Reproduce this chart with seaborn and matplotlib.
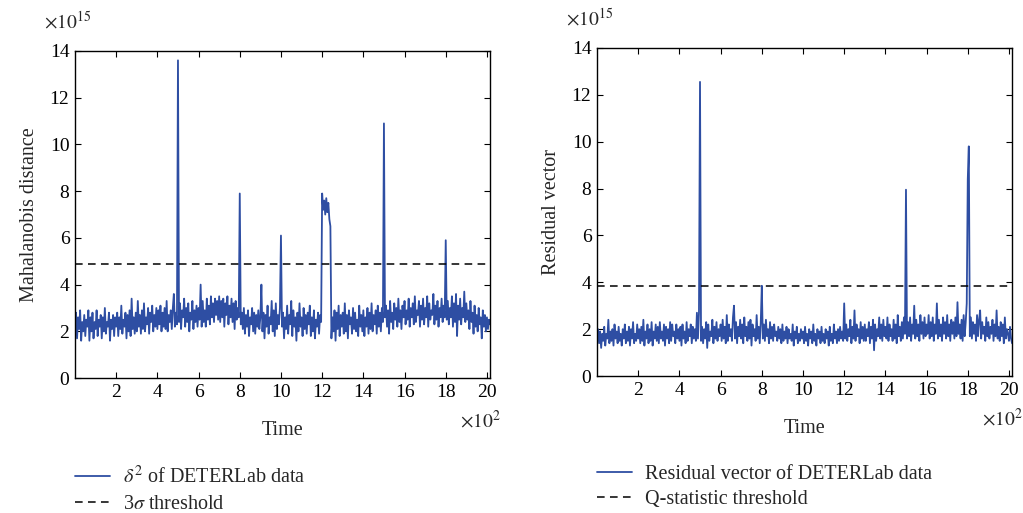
import numpy as np
import pandas as pd
import matplotlib
matplotlib.use("Agg")
import matplotlib.pyplot as plt
import seaborn as sns

# ---- data (values in units of 1e15; time step of 5 samples) ----
mahalanobis = [
    2.3, 2.8, 1.7, 2.6, 2.1, 2.9, 1.6, 2.4, 2.0, 2.7, 1.8, 2.5, 2.2, 2.9, 1.6, 2.6, 2.0, 2.8, 1.7, 2.4,
    2.1, 2.9, 1.8, 2.5, 2.2, 2.7, 1.7, 2.6, 2.0, 3.0, 1.9, 2.4, 2.2, 2.8, 1.6, 2.5, 2.1, 2.7, 1.8, 2.6,
    2.2, 2.8, 1.8, 2.6, 2.1, 3.1, 1.9, 2.5, 2.2, 2.8, 1.7, 2.7, 2.0, 2.9, 1.8, 3.4, 2.1, 2.6, 1.9, 2.8,
    2.0, 3.3, 2.2, 2.7, 1.9, 2.9, 2.1, 3.2, 2.0, 2.6, 2.3, 3.0, 1.9, 2.8, 2.4, 3.1, 2.0, 2.7, 2.2, 3.0,
    2.1, 2.9, 2.3, 3.1, 2.0, 2.8, 2.2, 3.0, 2.1, 3.3, 2.0, 2.7, 2.4, 2.9, 2.1, 3.0, 3.6, 2.2, 2.8, 2.3,
    13.6, 2.4, 3.2, 2.1, 2.9, 2.6, 3.4, 2.2, 3.0, 2.4, 3.2, 2.0, 2.8, 2.5, 3.3, 2.1, 2.9, 2.4, 3.1, 2.2,
    3.0, 2.5, 4.0, 2.2, 3.3, 2.4, 2.9, 2.2, 3.4, 2.5, 3.1, 2.3, 3.5, 2.6, 3.2, 2.4, 3.4, 2.7, 3.3, 2.5,
    3.5, 2.4, 3.3, 2.6, 3.4, 2.2, 3.2, 2.7, 3.5, 2.3, 3.1, 2.6, 3.4, 2.4, 3.2, 2.1, 3.3, 2.5, 3.0, 2.6,
    7.9, 2.3, 2.8, 2.1, 3.0, 1.9, 2.7, 2.2, 2.9, 1.8, 2.6, 2.3, 3.0, 2.0, 2.8, 1.9, 2.7, 2.2, 2.9, 2.1,
    2.6, 4.0, 2.0, 2.8, 1.7, 2.7, 2.2, 3.1, 1.9, 2.6, 2.3, 3.3, 2.0, 2.9, 1.8, 3.2, 2.1, 2.7, 2.3, 3.0,
    6.1, 2.2, 2.8, 1.7, 2.6, 2.1, 3.1, 1.9, 2.7, 2.3, 3.3, 1.8, 2.9, 2.2, 2.6, 1.6, 2.8, 2.0, 3.2, 2.2,
    2.6, 1.8, 3.0, 2.1, 2.7, 1.9, 2.8, 2.3, 3.1, 1.8, 2.6, 2.0, 2.9, 1.7, 2.5, 2.2, 2.8, 1.9, 2.7, 2.4,
    7.9, 7.2, 7.6, 7.0, 7.7, 7.1, 7.5, 6.8, 6.5, 1.7, 2.6, 2.0, 2.9, 1.6, 2.8, 2.1, 3.1, 1.8, 2.7, 2.2,
    2.8, 1.9, 3.2, 2.0, 2.7, 1.7, 2.9, 2.3, 2.6, 1.9, 3.0, 2.1, 2.8, 2.0, 2.5, 1.8, 3.1, 2.2, 2.7, 2.0,
    2.9, 1.8, 2.6, 2.2, 3.0, 1.9, 2.8, 2.1, 3.2, 2.0, 2.7, 2.3, 2.9, 1.9, 3.1, 2.2, 2.8, 2.0, 3.0, 2.4,
    10.9, 2.6, 3.1, 2.2, 2.9, 1.9, 3.3, 2.4, 2.8, 2.1, 3.2, 2.5, 3.0, 2.2, 3.4, 2.4, 2.9, 2.1, 3.1, 2.6,
    3.3, 2.3, 2.9, 2.5, 3.4, 2.2, 3.0, 2.6, 3.2, 2.3, 3.5, 2.4, 2.9, 2.7, 3.3, 2.2, 3.1, 2.5, 3.4, 2.3,
    3.0, 2.6, 3.5, 2.2, 3.2, 2.5, 2.9, 2.7, 3.6, 2.3, 3.1, 2.5, 3.3, 2.2, 3.0, 2.6, 3.4, 2.4, 3.1, 2.6,
    5.9, 2.5, 3.3, 2.3, 3.0, 2.6, 3.5, 2.2, 3.2, 2.4, 3.6, 1.8, 3.1, 2.5, 3.4, 2.3, 3.0, 2.6, 3.7, 2.4,
    3.2, 2.5, 2.9, 2.1, 3.3, 2.4, 2.8, 1.9, 3.1, 2.2, 2.7, 2.0, 3.0, 2.3, 2.6, 1.7, 2.9, 2.2, 2.7, 2.0,
    2.6, 2.1, 2.5, 2.3,
]

residual = [
    1.7, 2.0, 1.4, 1.9, 1.2, 1.8, 1.5, 2.1, 1.3, 1.8, 1.6, 2.4, 1.4, 1.9, 1.5, 2.0, 1.3, 2.2, 1.6, 1.9,
    1.4, 2.1, 1.5, 1.8, 1.3, 2.0, 1.6, 2.2, 1.4, 1.9, 1.5, 2.1, 1.3, 2.0, 1.6, 2.3, 1.4, 1.8, 1.5, 2.2,
    1.6, 2.0, 1.4, 2.1, 1.5, 2.4, 1.3, 1.9, 1.6, 2.2, 1.4, 2.0, 1.5, 2.3, 1.3, 1.9, 1.6, 2.2, 1.5, 2.1,
    1.4, 2.3, 1.6, 1.9, 1.5, 2.2, 1.3, 2.1, 1.6, 2.0, 1.4, 2.3, 1.5, 2.2, 1.7, 1.9, 1.4, 2.2, 1.6, 2.0,
    1.5, 2.1, 1.3, 2.2, 1.6, 1.9, 1.4, 2.3, 1.5, 2.0, 1.7, 2.2, 1.4, 2.1, 1.6, 2.0, 1.5, 2.7, 1.6, 2.7,
    12.55, 1.5, 2.1, 1.4, 2.0, 1.6, 2.3, 1.2, 2.2, 1.5, 1.9, 1.7, 2.4, 1.4, 2.1, 1.6, 2.3, 1.5, 2.0, 1.7,
    2.2, 1.5, 2.4, 1.6, 2.1, 1.4, 2.6, 1.5, 2.2, 1.7, 2.0, 1.5, 2.5, 3.0, 1.6, 2.3, 1.4, 2.1, 1.7, 2.4,
    1.6, 2.2, 1.4, 2.5, 1.7, 2.1, 1.5, 2.3, 1.6, 2.4, 1.3, 2.2, 1.7, 2.0, 1.5, 2.6, 1.6, 2.1, 1.4, 2.3,
    3.85, 1.6, 2.2, 1.5, 2.4, 1.7, 2.0, 1.4, 2.3, 1.6, 2.1, 1.5, 2.2, 1.7, 1.9, 1.5, 2.1, 1.6, 2.0, 1.4,
    2.2, 1.5, 1.9, 1.6, 2.1, 1.4, 2.0, 1.6, 1.8, 1.5, 2.2, 1.3, 1.9, 1.6, 2.1, 1.4, 1.8, 1.5, 2.0, 1.6,
    1.9, 1.4, 2.1, 1.5, 1.8, 1.3, 2.0, 1.6, 1.9, 1.4, 2.2, 1.5, 1.8, 1.3, 2.0, 1.6, 1.9, 1.4, 2.1, 1.5,
    1.8, 1.4, 2.0, 1.6, 1.9, 1.3, 2.1, 1.5, 1.8, 1.4, 2.2, 1.6, 1.9, 1.4, 2.0, 1.5, 2.1, 1.6, 1.9, 1.5,
    3.1, 1.6, 2.2, 1.5, 2.0, 1.7, 2.4, 1.4, 2.1, 1.6, 2.8, 1.5, 2.2, 1.7, 2.0, 1.4, 2.3, 1.6, 2.1, 1.5,
    2.2, 1.5, 2.0, 1.7, 2.3, 1.4, 2.1, 1.6, 2.4, 1.1, 2.2, 1.5, 2.0, 1.7, 2.5, 1.6, 2.2, 1.5, 2.4, 1.7,
    2.1, 1.6, 2.5, 1.5, 2.2, 1.7, 2.0, 1.5, 2.4, 1.6, 2.2, 1.4, 2.6, 1.7, 2.1, 1.5, 2.3, 1.6, 2.5, 1.8,
    7.95, 1.6, 2.3, 1.7, 2.5, 1.5, 2.2, 1.8, 3.0, 1.6, 2.4, 1.7, 2.2, 1.5, 2.6, 1.8, 2.3, 1.6, 2.5, 1.7,
    2.2, 1.8, 2.6, 1.6, 2.3, 1.7, 2.5, 1.5, 2.2, 1.8, 3.1, 1.6, 2.4, 1.7, 2.2, 1.5, 2.5, 1.8, 2.3, 1.6,
    2.6, 1.7, 2.2, 1.5, 2.4, 1.8, 2.3, 1.6, 2.5, 1.7, 3.15, 1.8, 2.2, 1.6, 2.4, 1.5, 2.6, 1.7, 2.3, 3.1,
    8.4, 9.8, 1.7, 2.5, 1.6, 2.3, 1.8, 2.2, 1.5, 2.6, 1.7, 2.4, 2.8, 1.6, 2.3, 1.8, 2.1, 1.5, 2.5, 1.7,
    2.3, 1.6, 2.1, 1.8, 2.4, 1.5, 2.2, 1.7, 2.8, 1.6, 2.1, 1.5, 2.3, 1.7, 2.2, 1.4, 2.5, 1.6, 2.0, 1.8,
    1.5, 2.1, 1.6, 1.4,
]

threshold_3sigma = 4.9
threshold_q = 3.83

x_ticks = [2, 4, 6, 8, 10, 12, 14, 16, 18, 20]
y_ticks = [0, 2, 4, 6, 8, 10, 12, 14]

STEP = 5  # samples between stored values
df_left = pd.DataFrame({"time": np.arange(len(mahalanobis)) * STEP / 100.0,
                        "value": mahalanobis})
df_right = pd.DataFrame({"time": np.arange(len(residual)) * STEP / 100.0,
                         "value": residual})

sns.set_theme(style="ticks")
plt.rcParams["font.family"] = ["Liberation Serif", "DejaVu Serif"]
plt.rcParams["mathtext.fontset"] = "stix"
plt.rcParams.update({
    "xtick.direction": "in", "ytick.direction": "in",
    "xtick.top": True, "ytick.right": True,
    "xtick.major.size": 4, "ytick.major.size": 4,
    "xtick.major.width": 0.8, "ytick.major.width": 0.8,
    "axes.linewidth": 1.0, "axes.edgecolor": "black",
    "xtick.color": "black", "ytick.color": "black",
    "font.size": 14,
})

BLUE = "#2e4ea3"
FS = 14
FS_LAB = 14.5

fig = plt.figure(figsize=(10.23, 5.13), dpi=100)
axL = fig.add_axes([0.0733, 0.263, 0.4057, 0.6376])
axR = fig.add_axes([0.5836, 0.267, 0.4057, 0.6396])

panels = [
    (axL, df_left, threshold_3sigma, "Mahalanobis distance",
     r"$\delta^2$ of DETERLab data", r"3$\sigma$ threshold", -0.27),
    (axR, df_right, threshold_q, "Residual vector",
     "Residual vector of DETERLab data", "Q-statistic threshold", -0.27),
]

for ax, df, thr, ylab, lab1, lab2, leg_y in panels:
    sns.lineplot(data=df, x="time", y="value", ax=ax, color=BLUE, lw=1.3,
                 label=lab1, estimator=None, sort=False)
    ax.axhline(thr, color="black", lw=1.1, ls=(0, (5, 3.5)), label=lab2)
    ax.set_xlim(0, df["time"].iloc[-1])
    ax.set_ylim(0, 14)
    ax.set_xticks(x_ticks)
    ax.set_yticks(y_ticks)
    ax.tick_params(labelsize=FS, pad=4)
    ax.set_xlabel("Time", fontsize=FS_LAB, labelpad=15)
    ax.set_ylabel(ylab, fontsize=FS_LAB, labelpad=8)
    for s in ax.spines.values():
        s.set_visible(True)
        s.set_color("black")
    ax.text(-0.075, 1.055, r"$\times10^{15}$", transform=ax.transAxes,
            fontsize=FS, ha="left", va="bottom")
    ax.text(1.025, -0.095, r"$\times10^{2}$", transform=ax.transAxes,
            fontsize=FS, ha="right", va="top")
    ax.legend(loc="upper left", bbox_to_anchor=(0.0, leg_y),
              frameon=False, fontsize=FS_LAB, handlelength=1.75,
              handletextpad=0.65, labelspacing=0.3, borderaxespad=0,
              borderpad=0)

fig.savefig("out.png", dpi=100)
